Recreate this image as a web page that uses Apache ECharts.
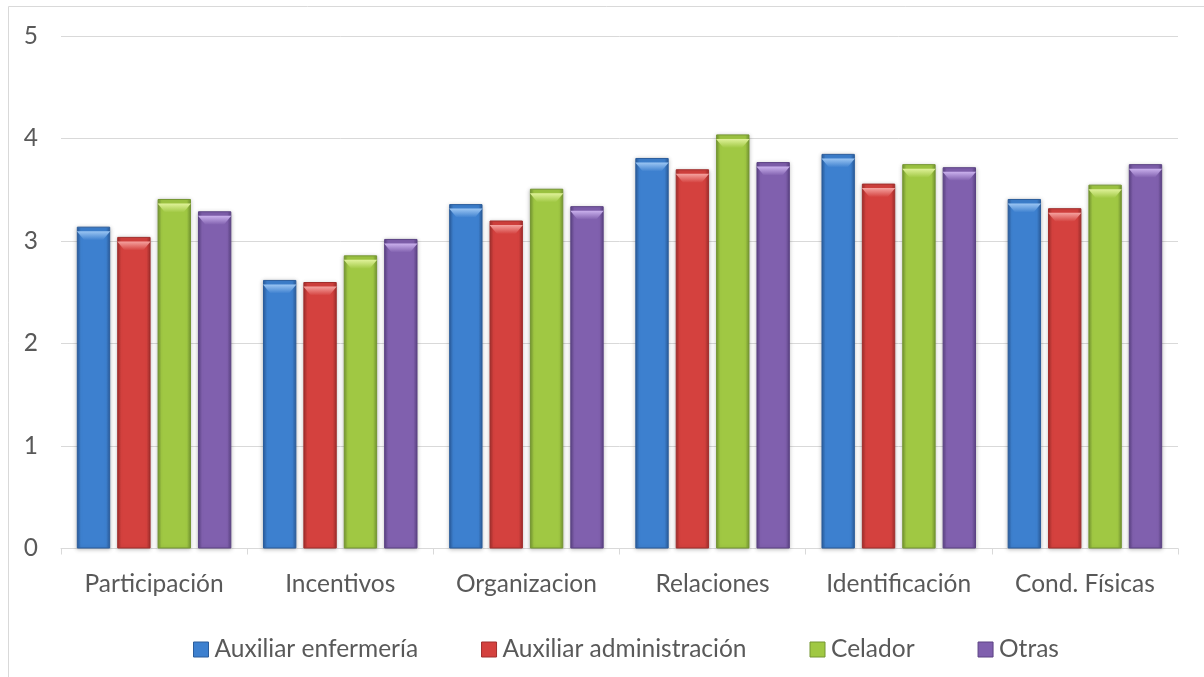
<!DOCTYPE html>
<html>
<head>
<meta charset="utf-8">
<script src="https://cdn.jsdelivr.net/npm/echarts@6/dist/echarts.min.js"></script>
<style>
  html, body { margin: 0; padding: 0; background: #ffffff; }
  #chart { width: 1204px; height: 677px; }
</style>
</head>
<body>
<div id="chart"></div>
<script>
// Categories and per-group scores
const categories = ['Participación', 'Incentivos', 'Organizacion', 'Relaciones', 'Identificación', 'Cond. Físicas'];
const auxiliarEnfermeria = [3.14, 2.62, 3.36, 3.81, 3.85, 3.41];
const auxiliarAdministracion = [3.04, 2.60, 3.20, 3.70, 3.56, 3.32];
const celador = [3.41, 2.86, 3.51, 4.04, 3.75, 3.55];
const otras = [3.29, 3.02, 3.34, 3.77, 3.72, 3.75];
const yTicks = [0, 1, 2, 3, 4, 5];

const seriesDefs = [
  { name: 'Auxiliar enfermería', data: auxiliarEnfermeria, mid: '#3d80cf', edge: '#2b5d9c', top: '#9cc6f3' },
  { name: 'Auxiliar administración', data: auxiliarAdministracion, mid: '#d4413e', edge: '#a12e2c', top: '#f5a3a0' },
  { name: 'Celador', data: celador, mid: '#a0c843', edge: '#759632', top: '#e0f29a' },
  { name: 'Otras', data: otras, mid: '#8060ae', edge: '#5c4384', top: '#cbb2ee' }
];

const font = 'Lato, "Open Sans", sans-serif';
const fontSize = 24.5;
const textColor = '#595959';
const lineColor = '#d9d9d9';

function barGradient(d) {
  return new echarts.graphic.LinearGradient(0, 0, 1, 0, [
    { offset: 0, color: d.edge },
    { offset: 0.12, color: d.mid },
    { offset: 0.88, color: d.mid },
    { offset: 1, color: d.edge }
  ]);
}

const barSeries = seriesDefs.map(d => ({
  name: d.name,
  type: 'bar',
  data: d.data,
  barGap: '21%',
  barCategoryGap: '17%',
  itemStyle: {
    color: barGradient(d),
    borderColor: d.edge,
    borderWidth: 1,
    shadowColor: 'rgba(0,0,0,0.25)',
    shadowBlur: 4,
    shadowOffsetY: 1
  },
  z: 2
}));

// Bevelled cap at the top of each bar
const capSeries = seriesDefs.map(d => ({
  name: d.name,
  type: 'pictorialBar',
  data: d.data,
  barGap: '21%',
  barCategoryGap: '17%',
  symbol: 'path://M0,0 L40,0 L31,9 L9,9 Z',
  symbolSize: ['100%', 9],
  symbolPosition: 'end',
  symbolOffset: [0, '50%'],
  symbolKeepAspect: false,
  itemStyle: {
    color: new echarts.graphic.LinearGradient(0, 0, 0, 1, [
      { offset: 0, color: d.top },
      { offset: 1, color: d.mid }
    ])
  },
  legendHoverLink: false,
  silent: true,
  z: 3
}));

const chart = echarts.init(document.getElementById('chart'), null, { renderer: 'canvas' });
chart.setOption({
  animation: false,
  backgroundColor: '#ffffff',
  graphic: [{
    type: 'rect',
    shape: { x: 8.5, y: 6.5, width: 1400, height: 900 },
    style: { fill: 'none', stroke: lineColor, lineWidth: 1 },
    silent: true,
    z: -1
  }],
  grid: { left: 61, right: 26, top: 36, bottom: 128.5, containLabel: false },
  legend: {
    data: seriesDefs.map(d => ({ name: d.name, itemStyle: { color: d.mid, borderColor: d.edge, borderWidth: 1 } })),
    bottom: 10,
    left: 188,
    itemWidth: 15,
    itemHeight: 15,
    itemGap: 63,
    icon: 'rect',
    textStyle: { fontFamily: font, fontSize: fontSize, color: textColor, padding: [0, 0, 0, 1] }
  },
  xAxis: {
    type: 'category',
    data: categories,
    axisLine: { show: true, lineStyle: { color: lineColor, width: 1 } },
    axisTick: { show: true, interval: 0, length: 6, lineStyle: { color: lineColor } },
    axisLabel: { interval: 0, fontFamily: font, fontSize: fontSize, color: textColor, margin: 23 },
    splitLine: { show: false }
  },
  yAxis: {
    type: 'value',
    min: yTicks[0],
    max: yTicks[yTicks.length - 1],
    interval: 1,
    axisLine: { show: false },
    axisTick: { show: false },
    axisLabel: { fontFamily: font, fontSize: fontSize, color: textColor, margin: 23, align: 'right' },
    splitLine: { show: true, lineStyle: { color: lineColor, width: 1 } }
  },
  series: barSeries.concat(capSeries)
});
</script>
</body>
</html>
